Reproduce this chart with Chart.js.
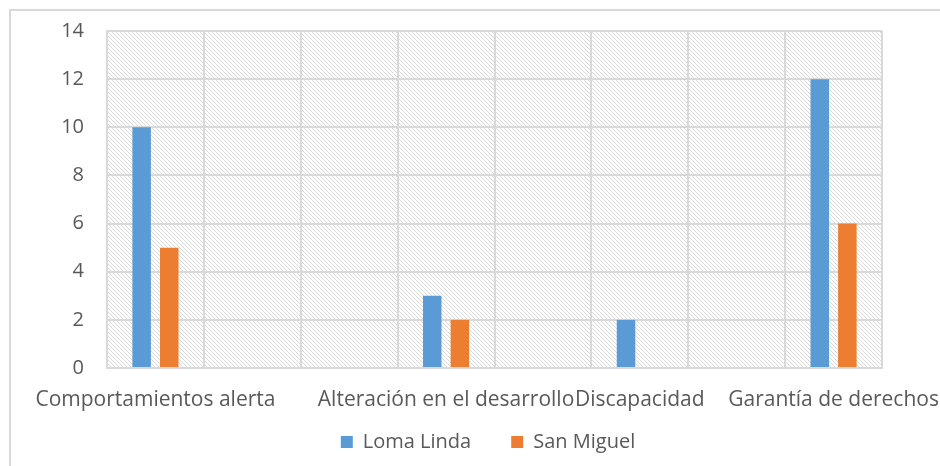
<!DOCTYPE html>
<html>
<head>
<meta charset="utf-8">
<script src="https://cdn.jsdelivr.net/npm/chart.js@4.4.0/dist/chart.umd.min.js"></script>
<style>
  html, body { margin: 0; padding: 0; background: #fff; }
  #wrap { width: 940px; height: 466px; }
</style>
</head>
<body>
<div id="wrap"><canvas id="chartCanvas" width="940" height="466"></canvas></div>
<script>
// categories (the empty ones are the blank slots of the original sheet)
const categories = ["Comportamientos alerta", "", "", "Alteración en el desarrollo", "", "Discapacidad", "", "Garantía de derechos"];
const lomaLinda = [10, null, null, 3, null, 2, null, 12];
const sanMiguel = [5, null, null, 2, null, 0, null, 6];
const yTicks = [0, 2, 4, 6, 8, 10, 12, 14];

const textColor = "#595959";
const gridColor = "#d9d9d9";
const fontFamily = "'Open Sans'";

// diagonal hatch for the plot background
function makeHatch() {
    const c = document.createElement("canvas");
    c.width = 4;
    c.height = 4;
    const g = c.getContext("2d");
    g.fillStyle = "#ffffff";
    g.fillRect(0, 0, 4, 4);
    g.fillStyle = "#dadada";
    for (let x = 0; x < 4; x++) {
        for (let y = 0; y < 4; y++) {
            if ((x - y + 4) % 4 === 0) g.fillRect(x, y, 1, 1);
        }
    }
    return g.createPattern(c, "repeat");
}

const hatchPlugin = {
    id: "hatch",
    afterLayout(chart) {
        // pull the legend row up under the axis labels, a bit right of centre
        const lg = chart.legend;
        lg.top = 392;
        lg.bottom = chart.height;
        lg.left += 47;
        lg.right += 47;
    },
    beforeDraw(chart) {
        const ctx = chart.ctx;
        const a = chart.chartArea;
        ctx.save();
        ctx.fillStyle = "#fff";
        ctx.fillRect(0, 0, chart.width, chart.height);
        // outer chart frame
        ctx.strokeStyle = gridColor;
        ctx.lineWidth = 2;
        ctx.strokeRect(10, 10, 1000, 1000);
        ctx.fillStyle = makeHatch();
        ctx.fillRect(a.left, a.top, a.right - a.left, a.bottom - a.top);
        ctx.restore();
    }
};

new Chart(document.getElementById("chartCanvas"), {
    type: "bar",
    data: {
        labels: categories,
        datasets: [
            { label: "Loma Linda", data: lomaLinda, backgroundColor: "#5b9bd5", barPercentage: 0.67, categoryPercentage: 0.57 },
            { label: "San Miguel", data: sanMiguel, backgroundColor: "#ed7d31", barPercentage: 0.67, categoryPercentage: 0.57 }
        ]
    },
    options: {
        responsive: false,
        animation: false,
        layout: { padding: { top: 31, right: 58, left: 0, bottom: 0 } },
        plugins: {
            legend: {
                position: "bottom",
                maxHeight: 48,
                labels: {
                    color: textColor,
                    font: { family: fontFamily, size: 20 },
                    boxWidth: 12,
                    boxHeight: 12,
                    padding: 40
                }
            },
            tooltip: { enabled: false }
        },
        scales: {
            x: {
                grid: { color: gridColor, lineWidth: 2, drawTicks: false },
                border: { color: gridColor, width: 2 },
                ticks: {
                    color: textColor,
                    font: { family: fontFamily, size: 21 },
                    autoSkip: false,
                    maxRotation: 0,
                    padding: 19
                },
                afterFit(scale) {
                    scale.height = 50;
                    scale.paddingLeft = 0;
                    scale.paddingRight = 0;
                }
            },
            y: {
                min: 0,
                max: 14,
                grid: { color: gridColor, lineWidth: 2, drawTicks: false },
                border: { color: gridColor, width: 2 },
                afterBuildTicks(scale) { scale.ticks = yTicks.map(v => ({ value: v })); },
                ticks: {
                    color: textColor,
                    font: { family: fontFamily, size: 20 },
                    padding: 23
                },
                afterFit(scale) {
                    scale.width = 107;
                    scale.paddingTop = 0;
                    scale.paddingBottom = 0;
                }
            }
        }
    },
    plugins: [hatchPlugin]
});
</script>
</body>
</html>
